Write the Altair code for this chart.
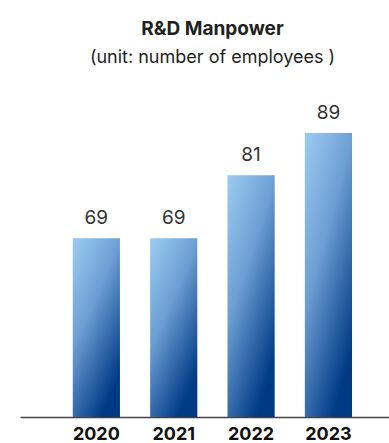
import altair as alt
import pandas as pd

years = ["2020", "2021", "2022", "2023"]
employees = [69, 69, 81, 89]
axis_floor = 35

df = pd.DataFrame({"year": years, "employees": employees})

gradient = alt.Gradient(
    gradient="linear",
    x1=0, y1=0, x2=0.6, y2=1,
    stops=[
        alt.GradientStop(color="#9ccbf0", offset=0),
        alt.GradientStop(color="#6e9fd4", offset=0.45),
        alt.GradientStop(color="#003a85", offset=1),
    ],
)

x_enc = alt.X(
    "year:N",
    sort=years,
    scale=alt.Scale(paddingInner=0.39, paddingOuter=0.58, align=0.588),
    axis=alt.Axis(
        title=None, labelAngle=0, ticks=False, domain=True,
        domainColor="#444444", domainWidth=1.5,
        labelFont="Inter", labelFontSize=18, labelFontWeight="bold",
        labelColor="#111111", labelPadding=8,
    ),
)
y_enc = alt.Y(
    "employees:Q",
    scale=alt.Scale(domain=[axis_floor, 95.3], zero=False, nice=False),
    axis=None,
)

bars = alt.Chart(df).mark_bar(color=gradient).encode(
    x=x_enc, y=y_enc, y2=alt.datum(axis_floor)
)
labels = alt.Chart(df).mark_text(
    baseline="bottom", dy=-10, font="Inter", fontSize=19, color="#333333"
).encode(x=alt.X("year:N", sort=years), y="employees:Q", text="employees:Q")

chart = (
    alt.layer(bars, labels)
    .properties(
        width=369,
        height=317,
        autosize=alt.AutoSizeParams(type="none"),
        padding={"left": 20, "top": 100, "right": 0, "bottom": 26},
        title=alt.TitleParams(
            "R&D Manpower",
            subtitle="(unit: number of employees )",
            font="Inter", fontSize=19, fontWeight="bold", color="#231f20",
            subtitleFont="Inter", subtitleFontSize=18, subtitleColor="#231f20",
            subtitlePadding=10, anchor="middle", dx=8, offset=33,
        ),
    )
    .configure_view(stroke=None)
)

chart.save("out.html", embed_options={"renderer": "svg", "actions": False})
